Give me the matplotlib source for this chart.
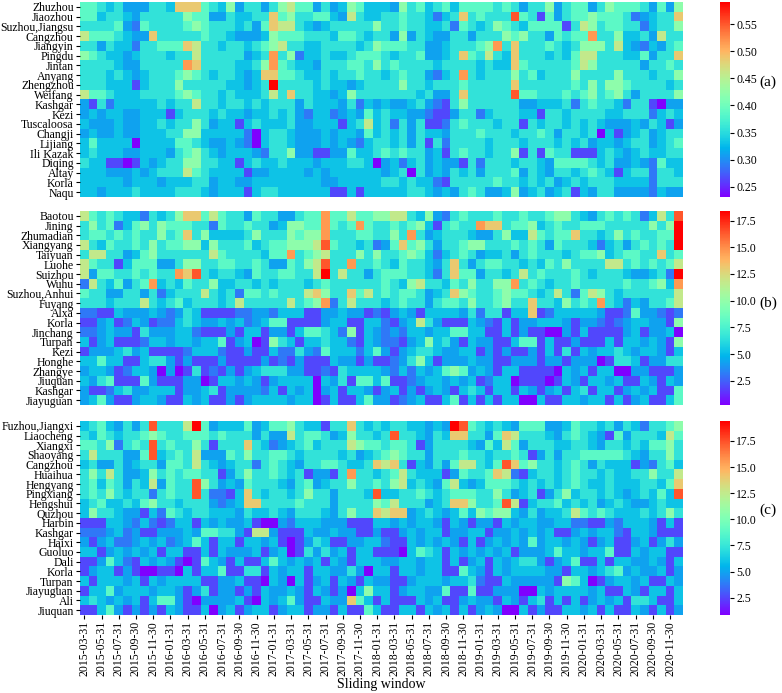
import numpy as np
import pandas as pd
import matplotlib
matplotlib.use("Agg")
import matplotlib.pyplot as plt

plt.rcParams['font.family'] = ['Liberation Serif', 'DejaVu Serif']
plt.rcParams['font.size'] = 8.5

# sliding windows (monthly), 70 columns
windows = pd.date_range('2015-03-31', periods=70, freq='ME').strftime('%Y-%m-%d').tolist()

cities_a = ['Zhuzhou', 'Jiaozhou', 'Suzhou,Jiangsu', 'Cangzhou', 'Jiangyin', 'Pingdu',
            'Jintan', 'Anyang', 'Zhengzhou', 'Weifang', 'Kashgar', 'Kezi', 'Tuscaloosa',
            'Changji', 'Lijiang', 'Ili Kazak', 'Diqing', 'Altay', 'Korla', 'Naqu']
cities_b = ['Baotou', 'Jining', 'Zhumadian', 'Xiangyang', 'Taiyuan', 'Luohe', 'Suizhou',
            'Wuhu', 'Suzhou,Anhui', 'Fuyang', 'Alxa', 'Korla', 'Jinchang', 'Turpan', 'Kezi',
            'Honghe', 'Zhangye', 'Jiuquan', 'Kashgar', 'Jiayuguan']
cities_c = ['Fuzhou,Jiangxi', 'Liaocheng', 'Xiangxi', 'Shaoyang', 'Cangzhou', 'Huaihua',
            'Hengyang', 'Pingxiang', 'Hengshui', 'Quzhou', 'Harbin', 'Kashgar', 'Haixi',
            'Guoluo', 'Dali', 'Korla', 'Turpan', 'Jiayuguan', 'Ali', 'Jiuquan']

# value ranges of each colour scale
range_a = (0.231, 0.591)
range_b = (0.23, 18.4)
range_c = (0.85, 19.4)

# cell readings: one character per cell, position along the colour scale
levels = {'0': 0.0, '1': 0.09, '2': 0.16, '3': 0.22, '4': 0.28, '5': 0.35, '6': 0.43,
          '7': 0.53, '8': 0.63, '9': 0.71, 'A': 0.79, 'B': 0.89, 'C': 1.0}

rows_a = [
    "6654533355" "4999654735" "5357866353" "47644" + "4375645646" "6665653557" "3566357666" "53637",
    "6645543555" "5576633544" "5596755664" "38544" + "5565542459" "56555B6516" "3566766652" "34559",
    "5555632655" "5567655545" "3698854345" "55557" + "5565544526" "5457654666" "6158756655" "24557",
    "8666543395" "5555655433" "3476665554" "66545" + "5373543355" "3555767553" "6566A55744" "53855",
    "5535442556" "6698554554" "5678554455" "55457" + "6665533455" "567A595556" "5457775843" "24356",
    "7654434555" "4558555553" "45A5724454" "45666" + "5455633459" "6585495554" "5468855544" "63559",
    "5555433555" "55A9555544" "57A6544355" "56657" + "5655554555" "5454496555" "5568755555" "35565",
    "5554543455" "5676545543" "4996654454" "55655" + "456553245A" "5455575645" "5575555755" "54557",
    "5554441455" "5755555443" "45C5555454" "43455" + "5575545556" "5555595555" "5565757765" "55545",
    "8665444555" "5676554544" "4585955443" "47555" + "5555453359" "55555B6655" "5656756753" "55557",
    "3152444445" "4558554554" "5455535444" "35243" + "4334532157" "5555553344" "4525655425" "51033",
    "3434433444" "1455545443" "4454532442" "34364" + "5443321135" "5245554415" "5455554455" "52454",
    "4333433445" "4557534414" "5444533444" "14584" + "5253511256" "5554551545" "5454543334" "35413",
    "3433433444" "5577444442" "0455433343" "44364" + "5453544355" "5655545565" "3554504134" "53455",
    "4644440444" "4665433432" "0455433343" "43245" + "5453515255" "5545554555" "4545344345" "53456",
    "4544433444" "3567543444" "3255733113" "36445" + "6565534156" "5545571516" "5511145434" "54455",
    "5441101434" "5577554414" "5445444344" "45540" + "3424534331" "5255545543" "6666545334" "32644",
    "4443334345" "5586544441" "3344443434" "44444" + "3450534354" "5355563543" "5545654145" "52554",
    "4444434443" "4445534433" "4444444433" "44444" + "5545442155" "5556554545" "3454555444" "42555",
    "4434445444" "4555434441" "4554444441" "14144" + "4445543435" "6533473453" "4514355333" "32433",
]

rows_b = [
    "8656544254" "5799686553" "65533566A6" "68667" + "7885473256" "5556556556" "7754356565" "2485B",
    "5756246757" "6665526556" "55347766A6" "56A65" + "5656741565" "5A99566745" "6556665555" "5757C",
    "5665656557" "5695744445" "75557677A5" "55665" + "575A534555" "4335744865" "6695545756" "5566C",
    "8546556575" "6677475556" "45667778B6" "55452" + "3696753556" "7755565653" "6555424535" "6565C",
    "5885534675" "5555586555" "5466A56785" "55757" + "5567642456" "5344535655" "5456674566" "55956",
    "8655146663" "3577556655" "65336578B5" "5A556" + "5465543595" "3566554546" "5755558856" "56568",
    "8366556565" "5A9B545543" "65566558C5" "85535" + "6665542596" "6355458565" "5565455543" "3452C",
    "28546356A4" "5465574455" "4545554565" "55555" + "6547855465" "75577A5654" "5565555565" "5674A",
    "6553355352" "4555854526" "6565558975" "59685" + "6566534597" "6556766545" "8526875455" "55558",
    "5554555854" "5645554585" "55558567A2" "58555" + "4565535665" "7556755955" "47565A5424" "35568",
    "2211433343" "2354111122" "3324441133" "43312" + "1343144443" "5255144912" "4444431126" "33212",
    "1134124312" "2454334342" "3466111134" "41144" + "2134853111" "4321413344" "4313321234" "43317",
    "2234331533" "3442111314" "4133146654" "27143" + "2324434466" "4411413110" "0314111134" "13340",
    "4134111244" "3443446134" "0175414454" "42143" + "2213474531" "4331146614" "1131114144" "34317",
    "1333453411" "1124442113" "1142253264" "44246" + "3134554334" "4131311314" "1514344543" "44314",
    "4464411455" "3131113111" "1312131114" "33131" + "1235741333" "4331133313" "3133301554" "13355",
    "3443124430" "3015121313" "4555331121" "54444" + "3242434676" "3431441111" "0434144003" "31113",
    "4356111631" "1133014434" "3134444043" "51664" + "6112344343" "4124401110" "1431443411" "43143",
    "3112453344" "4133451333" "3241434034" "14431" + "3413134314" "5414414313" "4145144134" "34116",
    "3463113443" "1143411313" "4444344014" "11463" + "3123411461" "4141440041" "1443441413" "41146",
]

rows_c = [
    "45643535B5" "558C634446" "3466754415" "59545" + "45544343CB" "6545436663" "3465545354" "25567",
    "5465455676" "5566656555" "3533856653" "47554" + "5B55435499" "5536985554" "3565431635" "55486",
    "66572565B5" "6557515559" "5423456455" "58766" + "5665135555" "4364863555" "4455435545" "46675",
    "58555336B4" "5658333657" "5566545555" "45345" + "6765535556" "5545565135" "3556666654" "35575",
    "4533534553" "6658543455" "2565435566" "54459" + "8951435368" "8546B96755" "4565354441" "32564",
    "5758533475" "6566551357" "5565451331" "5A554" + "5685444136" "5569821455" "4565545445" "57558",
    "5646535483" "655B753436" "5554356345" "57556" + "5784543684" "3466654545" "4565445444" "55469",
    "5657545525" "655B522149" "5455457553" "5554B" + "4455654566" "6557534513" "5745545434" "5464B",
    "4564454675" "5455532349" "9555565553" "55557" + "6855534599" "7556B81455" "6454534543" "34544",
    "4755433142" "6545544435" "4454355543" "57559" + "8993454346" "4767743534" "4586565444" "54575",
    "1114432421" "2441434334" "1003244433" "31114" + "4343443143" "1331434433" "4422113244" "43141",
    "2223423113" "3343665531" "8831114334" "33113" + "1134344133" "4413343434" "1134344214" "43111",
    "3134223434" "2346414414" "4341013541" "13344" + "2114343431" "4134343634" "4343134113" "41353",
    "4413434341" "4411414333" "4134015353" "41441" + "1104654143" "4343413334" "6443446114" "34411",
    "1136421434" "3101643141" "1464343414" "31444" + "3344344141" "3414345531" "3461141443" "34314",
    "1344131001" "1041446115" "5143441443" "35304" + "4144344116" "4314344443" "3144345634" "33413",
    "4144434143" "4444113341" "1043041341" "43143" + "3113444344" "5211433333" "1764013443" "41143",
    "1446344434" "4313513313" "1433431431" "30474" + "4134433611" "6113330043" "4444341143" "14414",
    "4543434146" "6310333341" "0434631143" "39641" + "4111434113" "4331431451" "4141343415" "54114",
    "1146313131" "4311403413" "4413441331" "41164" + "1144143414" "1343004131" "1443414114" "31413",
]


def decode(rows, vrange):
    lo, hi = vrange
    pos = np.array([[levels[ch] for ch in r] for r in rows])
    return lo + pos * (hi - lo)


panels = [
    (decode(rows_a, range_a), cities_a, range_a, np.arange(0.25, 0.56, 0.05), '(a)', 82),
    (decode(rows_b, range_b), cities_b, range_b, np.arange(2.5, 17.6, 2.5), '(b)', 303),
    (decode(rows_c, range_c), cities_c, range_c, np.arange(2.5, 17.6, 2.5), '(c)', 510),
]

W, H = 782, 693
fig = plt.figure(figsize=(W / 100, H / 100), dpi=100)

tops = [2, 211, 421]
bottoms = [197, 405, 615]

for i, (data, names, vr, cticks, tag, tag_y) in enumerate(panels):
    top, bot = tops[i], bottoms[i]
    ax = fig.add_axes([80 / W, 1 - bot / H, (683 - 80) / W, (bot - top) / H])
    im = ax.imshow(data, cmap='rainbow', vmin=vr[0], vmax=vr[1], aspect='auto',
                   interpolation='nearest')
    for s in ax.spines.values():
        s.set_visible(False)
    ax.set_yticks(np.arange(len(names)))
    ax.set_yticklabels(names)
    ax.tick_params(axis='both', length=3, width=0.8, pad=1.5)
    if i == 2:
        ax.set_xticks(np.arange(0, len(windows), 2))
        ax.set_xticklabels(windows[::2], rotation=90)
        ax.set_xlabel('Sliding window', fontsize=10, labelpad=1)
    else:
        ax.set_xticks([])

    cax = fig.add_axes([720 / W, 1 - bot / H, 10 / W, (bot - top) / H])
    cb = fig.colorbar(im, cax=cax)
    cb.outline.set_visible(False)
    cb.set_ticks(cticks)
    cb.ax.tick_params(length=3, width=0.8, pad=1.5)
    fig.text(768 / W, 1 - tag_y / H, tag, ha='center', va='center', fontsize=11)

fig.savefig('out.png', dpi=100)
